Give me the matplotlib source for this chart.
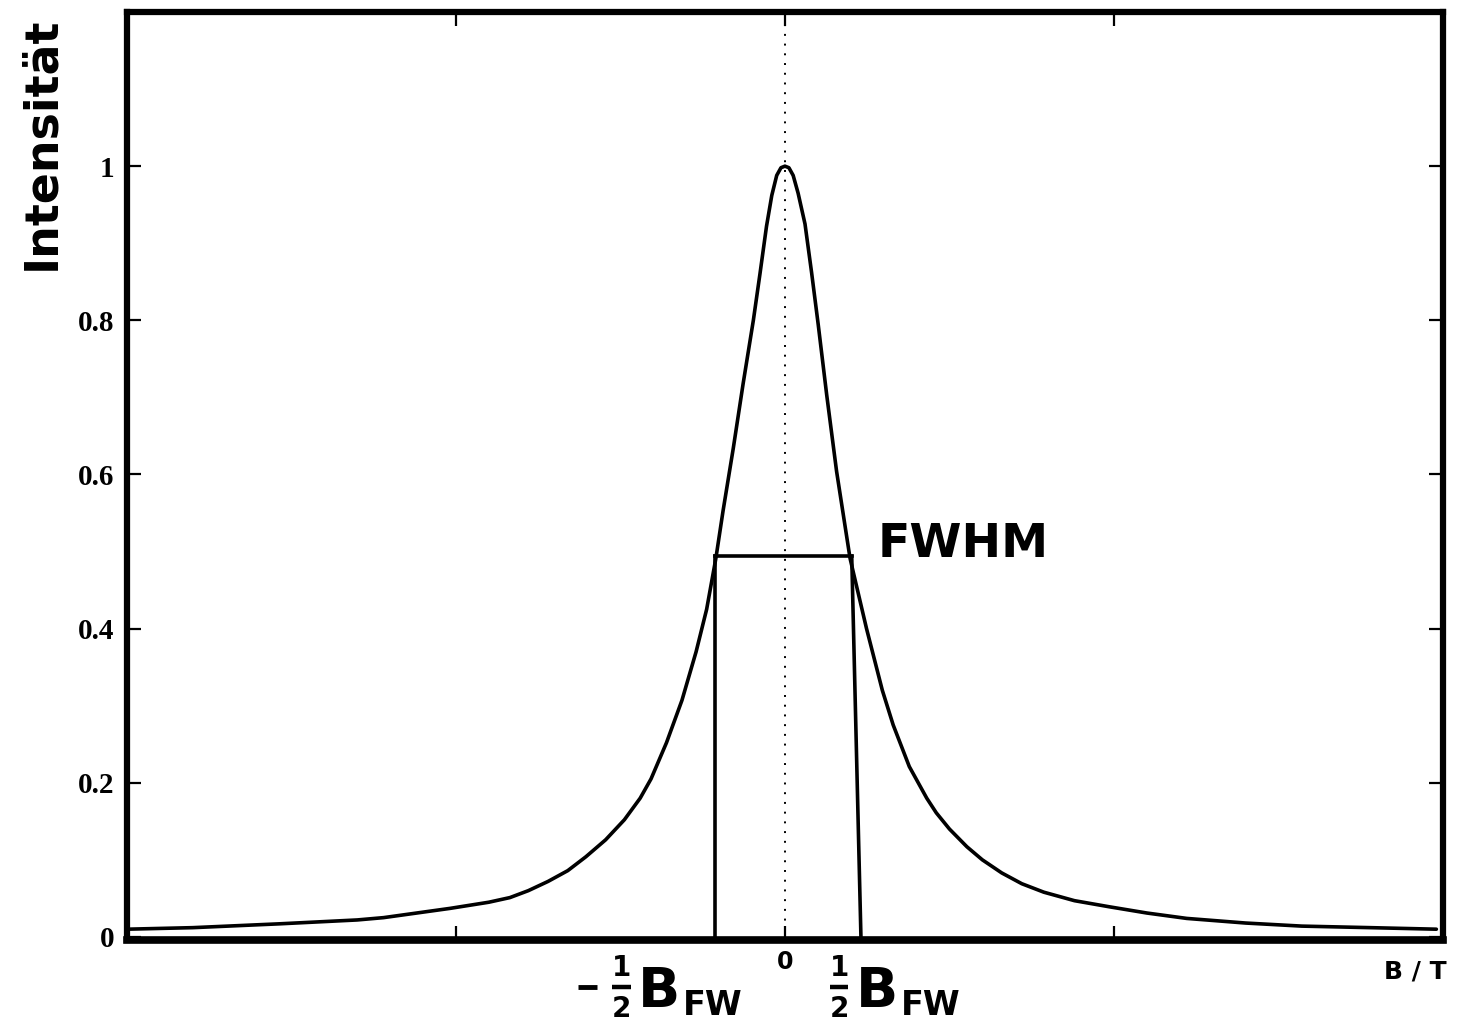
import matplotlib
matplotlib.use("Agg")
import matplotlib.pyplot as plt

# line profile (B in units of the axis, intensity normalised)
b_values = [-2.00, -1.80, -1.535, -1.30, -1.22, -1.018, -0.90, -0.836, -0.78, -0.72,
            -0.66, -0.605, -0.545, -0.488, -0.44, -0.407, -0.36, -0.313, -0.27,
            -0.238, -0.21, -0.188, -0.157, -0.127, -0.096, -0.076, -0.056, -0.040,
            -0.025, -0.012, 0.0,
            0.012, 0.025, 0.040, 0.061, 0.081, 0.101, 0.127, 0.157, 0.198, 0.248,
            0.296, 0.329, 0.378, 0.431, 0.46, 0.50, 0.553, 0.60, 0.659, 0.72, 0.787,
            0.88, 0.987, 1.10, 1.221, 1.40, 1.571, 1.78, 1.98]
intensity = [0.010, 0.012, 0.017, 0.022, 0.025, 0.037, 0.045, 0.051, 0.060, 0.072,
             0.086, 0.104, 0.126, 0.152, 0.180, 0.205, 0.252, 0.307, 0.370,
             0.425, 0.491, 0.553, 0.634, 0.718, 0.800, 0.860, 0.922, 0.962,
             0.988, 0.998, 1.0,
             0.998, 0.988, 0.965, 0.925, 0.862, 0.795, 0.703, 0.604, 0.491, 0.400,
             0.320, 0.275, 0.221, 0.180, 0.161, 0.140, 0.117, 0.100, 0.083, 0.069, 0.058,
             0.047, 0.039, 0.031, 0.024, 0.018, 0.014, 0.012, 0.010]

# FWHM box: left edge, right edge (top, bottom), height
fwhm_left = -0.213
fwhm_right_top = 0.203
fwhm_right_bottom = 0.231
half_max = 0.494

y_ticks = [0, 0.2, 0.4, 0.6, 0.8, 1]
y_ticklabels = ['0', '0.2', '0.4', '0.6', '0.8', '1']
x_ticks = [-1, 0, 1]

LW = 2.6
SANS = 'DejaVu Sans'

fig = plt.figure(figsize=(14.76, 10.35), dpi=100)
ax = fig.add_axes([0.086, 0.0918, 0.8916, 0.8966])

ax.plot(b_values, intensity, color='black', linewidth=LW,
        solid_joinstyle='round', solid_capstyle='round')

# FWHM construction
ax.plot([fwhm_left, fwhm_left], [0, half_max], color='black', linewidth=LW)
ax.plot([fwhm_left, fwhm_right_top], [half_max, half_max], color='black', linewidth=LW)
ax.plot([fwhm_right_top, fwhm_right_bottom], [half_max, 0], color='black', linewidth=LW)

ax.axvline(0, color='black', linewidth=1.4, linestyle=(0, (1, 4)))

ax.set_xlim(-2, 2)
ax.set_ylim(-0.004, 1.2)

ax.set_yticks(y_ticks)
ax.set_yticklabels(y_ticklabels, family='Liberation Serif', fontsize=21, fontweight='bold')
ax.set_xticks(x_ticks)
ax.set_xticklabels([])
ax.tick_params(direction='in', length=10, width=1.6, top=True, right=True, pad=9)

for side in ['left', 'right', 'top']:
    ax.spines[side].set_linewidth(4.5)
ax.spines['bottom'].set_linewidth(5.5)


def half_bfw_label(x0, negative=False):
    """draw  (-) 1/2 B_FW  below the axis, x0 = left edge of the fraction"""
    kw = dict(color='black', fontweight='bold', family=SANS, clip_on=False)
    if negative:
        ax.plot([x0 - 0.105, x0 - 0.047], [-0.065, -0.065], color='black', linewidth=3.5,
                solid_capstyle='butt', clip_on=False)
    ax.text(x0 + 0.028, -0.040, '1', ha='center', va='center', fontsize=20, **kw)
    ax.plot([x0, x0 + 0.056], [-0.065, -0.065], color='black', linewidth=3.2,
            solid_capstyle='butt', clip_on=False)
    ax.text(x0 + 0.028, -0.093, '2', ha='center', va='center', fontsize=20, **kw)
    ax.text(x0 + 0.078, -0.0915, 'B', ha='left', va='baseline', fontsize=40, **kw)
    ax.text(x0 + 0.215, -0.101, 'FW', ha='left', va='baseline', fontsize=24, **kw)


half_bfw_label(-0.525, negative=True)
half_bfw_label(0.137)

ax.text(0, -0.032, '0', ha='center', va='center', fontsize=17, fontweight='bold',
        family=SANS, clip_on=False)
ax.text(1.915, -0.045, 'B / T', ha='center', va='center', fontsize=18, fontweight='bold',
        family=SANS, clip_on=False)

ax.text(0.283, 0.509, 'FWHM', ha='left', va='center', fontsize=34, fontweight='bold',
        family=SANS)

fig.text(0.0285, 0.862, 'Intensität', rotation=90, ha='center', va='center',
         fontsize=33, fontweight='bold', family=SANS)

fig.savefig('out.png', dpi=100)
